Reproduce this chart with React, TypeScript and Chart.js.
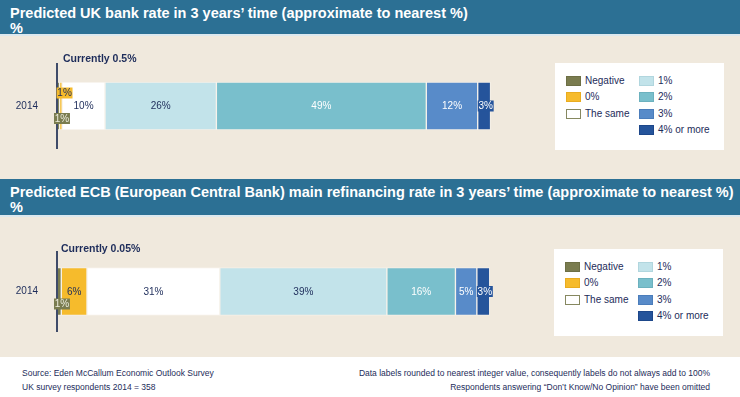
import React, { useEffect, useRef } from "react";
import { Chart, registerables } from "chart.js";

Chart.register(...registerables);

// ---------------- data ----------------
const categories = ["Negative", "0%", "The same", "1%", "2%", "3%", "4% or more"];
const yearLabels = ["2014"];
const ukValues = [0.6, 0.6, 10, 26, 49, 12, 3];
const ecbValues = [1, 6, 31, 39, 16, 5, 3];
const ukCurrent = "Currently 0.5%";
const ecbCurrent = "Currently 0.05%";
const ukTitle = "Predicted UK bank rate in 3 years\u2019 time (approximate to nearest %)";
const ecbTitle =
  "Predicted ECB (European Central Bank) main refinancing rate in 3 years\u2019 time (approximate to nearest %)";
const unitLabel = "%";
const footLeft = ["Source:  Eden McCallum Economic Outlook Survey", "UK survey respondents 2014 = 358"];
const footRight = [
  "Data labels rounded to nearest integer value, consequently labels do not always add to 100%",
  "Respondents answering \u201CDon\u2019t Know/No Opinion\u201D have been omitted",
];

// ---------------- styles ----------------
const FONT = "'Liberation Sans', Arial, Helvetica, sans-serif";
const NAVY = "#1d2c5a";
const BEIGE = "#f0e9dd";
const BLUE = "#2c7094";
const segColors = ["#7a7c4f", "#f6bb2c", "#ffffff", "#c2e3ea", "#79bfcc", "#588bc9", "#25549b"];
const segBorders = [
  "rgba(255,255,255,0.35)",
  "rgba(255,255,255,0.35)",
  "rgba(255,255,255,0.35)",
  "rgba(255,255,255,0.35)",
  "rgba(255,255,255,0.35)",
  "rgba(255,255,255,0.35)",
  "rgba(255,255,255,0.35)",
];
const legendBorders = ["#6d6f45", "#e9ac20", "#868860", "#b1d6de", "#6cb1be", "#4b7dbb", "#1d478a"];
const labelColors = ["#eeeedf", NAVY, NAVY, NAVY, "#ffffff", "#ffffff", "#ffffff"];

const segmentLabelPlugin = {
  id: "segmentLabels",
  afterDatasetsDraw(chart: any, _args: any, opts: any) {
    const { ctx, chartArea } = chart;
    ctx.save();
    // reference line
    ctx.strokeStyle = "#3f4b69";
    ctx.lineWidth = 2;
    ctx.beginPath();
    ctx.moveTo(chartArea.left, chartArea.top);
    ctx.lineTo(chartArea.left, chartArea.bottom);
    ctx.stroke();
    // "Currently" note
    ctx.font = `bold 10.5px ${FONT}`;
    ctx.fillStyle = NAVY;
    ctx.textAlign = "left";
    ctx.textBaseline = "middle";
    ctx.fillText(opts.current, chartArea.left + opts.dx, chartArea.top + opts.dy);
    // segment labels
    ctx.font = `10px ${FONT}`;
    ctx.textAlign = "center";
    let small = 0;
    chart.data.datasets.forEach((ds: any, i: number) => {
      const meta = chart.getDatasetMeta(i);
      meta.data.forEach((el: any, j: number) => {
        const v = ds.data[j];
        if (v == null) return;
        const text = `${Math.round(v)}%`;
        const p = el.getProps(["x", "y", "base"], true);
        const left = Math.min(p.x, p.base);
        const right = Math.max(p.x, p.base);
        const tw = ctx.measureText(text).width;
        const boxW = tw + 1.5;
        const boxH = 11;
        let cx = (left + right) / 2;
        let cy = p.y;
        let boxed = false;
        if (v < 2) {
          boxed = true;
          cy += small % 2 === 0 ? 12.5 : -13;
          small++;
          cx = Math.max(cx, left - 3 + boxW / 2);
        } else if (tw + 4 > right - left) {
          boxed = true;
          cx = left + boxW / 2;
        }
        if (boxed) {
          ctx.fillStyle = ds.backgroundColor;
          ctx.fillRect(cx - boxW / 2, cy - boxH / 2, boxW, boxH);
        }
        ctx.fillStyle = labelColors[i];
        ctx.fillText(text, cx, cy + 0.5);
      });
    });
    ctx.restore();
  },
};

function makeConfig(values: number[], current: string, dx: number, dy: number, padding: any): any {
  return {
    type: "bar",
    data: {
      labels: yearLabels,
      datasets: categories.map((c, i) => ({
        label: c,
        data: [values[i]],
        backgroundColor: segColors[i],
        borderColor: segBorders[i],
        borderWidth: 1,
        borderSkipped: false,
        barThickness: 48,
      })),
    },
    options: {
      indexAxis: "y",
      responsive: false,
      maintainAspectRatio: false,
      animation: false,
      layout: { padding },
      scales: {
        x: { stacked: true, min: 0, max: 102, display: false },
        y: {
          stacked: true,
          grid: { display: false, drawTicks: false },
          border: { display: false },
          ticks: { color: NAVY, font: { family: FONT, size: 10 }, padding: 19 },
          afterFit: (s: any) => {
            s.width = 57;
          },
        },
      },
      plugins: {
        legend: { display: false },
        tooltip: { enabled: false },
        segmentLabels: { current, dx, dy },
      },
    },
    plugins: [segmentLabelPlugin],
  };
}

function Legend({ left, top }: { left: number; top: number }) {
  return (
    <div style={{ position: "absolute", left, top, width: 169, height: 87, background: "#ffffff" }}>
      {categories.map((c, i) => {
        const col = i < 3 ? 0 : 1;
        const row = i < 3 ? i : i - 3;
        const y = 17.5 + row * 16.5;
        const sx = col === 0 ? 11 : 84;
        return (
          <React.Fragment key={c}>
            <div
              style={{
                position: "absolute",
                left: sx,
                top: y - 5,
                width: 15,
                height: 10,
                boxSizing: "border-box",
                background: segColors[i],
                border: `1px solid ${legendBorders[i]}`,
              }}
            />
            <div
              style={{
                position: "absolute",
                left: sx + 19,
                top: y - 7,
                lineHeight: "14px",
                fontSize: 10,
                fontFamily: FONT,
                color: NAVY,
                whiteSpace: "nowrap",
              }}
            >
              {c}
            </div>
          </React.Fragment>
        );
      })}
    </div>
  );
}

function Header({ top, height, title }: { top: number; height: number; title: string }) {
  return (
    <>
      <div style={{ position: "absolute", left: 0, top, width: 740, height, background: BLUE }}>
        <div
          style={{
            position: "absolute",
            left: 10,
            top: 6,
            fontFamily: FONT,
            fontWeight: "bold",
            fontSize: 14.5,
            lineHeight: "15px",
            color: "#ffffff",
            whiteSpace: "nowrap",
          }}
        >
          <div>{title}</div>
          <div>{unitLabel}</div>
        </div>
      </div>
      <div style={{ position: "absolute", left: 0, top: top + height, width: 740, height: 2, background: "#dce8ee" }} />
    </>
  );
}

export default function App() {
  const topRef = useRef<HTMLCanvasElement | null>(null);
  const botRef = useRef<HTMLCanvasElement | null>(null);

  useEffect(() => {
    const c1 = new Chart(
      topRef.current as HTMLCanvasElement,
      makeConfig(ukValues, ukCurrent, 6, -4, { left: 0, right: 246, top: 27, bottom: 32 })
    );
    const c2 = new Chart(
      botRef.current as HTMLCanvasElement,
      makeConfig(ecbValues, ecbCurrent, 4, -1.5, { left: 0, right: 246, top: 34, bottom: 20 })
    );
    return () => {
      c1.destroy();
      c2.destroy();
    };
  }, []);

  const footStyle: any = {
    position: "absolute",
    top: 366,
    fontFamily: FONT,
    fontSize: 8.5,
    lineHeight: "14px",
    color: NAVY,
    whiteSpace: "nowrap",
  };

  return (
    <div
      style={{
        position: "absolute",
        left: 0,
        top: 0,
        width: 740,
        height: 397,
        background: "#ffffff",
        overflow: "hidden",
      }}
    >
      <Header top={0} height={34} title={ukTitle} />
      <div style={{ position: "absolute", left: 0, top: 36, width: 740, height: 143, background: BEIGE }} />
      <div style={{ position: "absolute", left: 0, top: 36 }}>
        <canvas ref={topRef} width={740} height={145} style={{ width: 740, height: 145, display: "block" }} />
      </div>
      <Legend left={555} top={63} />

      <Header top={179} height={36} title={ecbTitle} />
      <div style={{ position: "absolute", left: 0, top: 217, width: 740, height: 140, background: BEIGE }} />
      <div style={{ position: "absolute", left: 0, top: 217 }}>
        <canvas ref={botRef} width={740} height={140} style={{ width: 740, height: 140, display: "block" }} />
      </div>
      <Legend left={554} top={249} />

      <div style={{ ...footStyle, left: 22 }}>
        {footLeft.map((t) => (
          <div key={t}>{t}</div>
        ))}
      </div>
      <div style={{ ...footStyle, right: 30, textAlign: "right" }}>
        {footRight.map((t) => (
          <div key={t}>{t}</div>
        ))}
      </div>
    </div>
  );
}
